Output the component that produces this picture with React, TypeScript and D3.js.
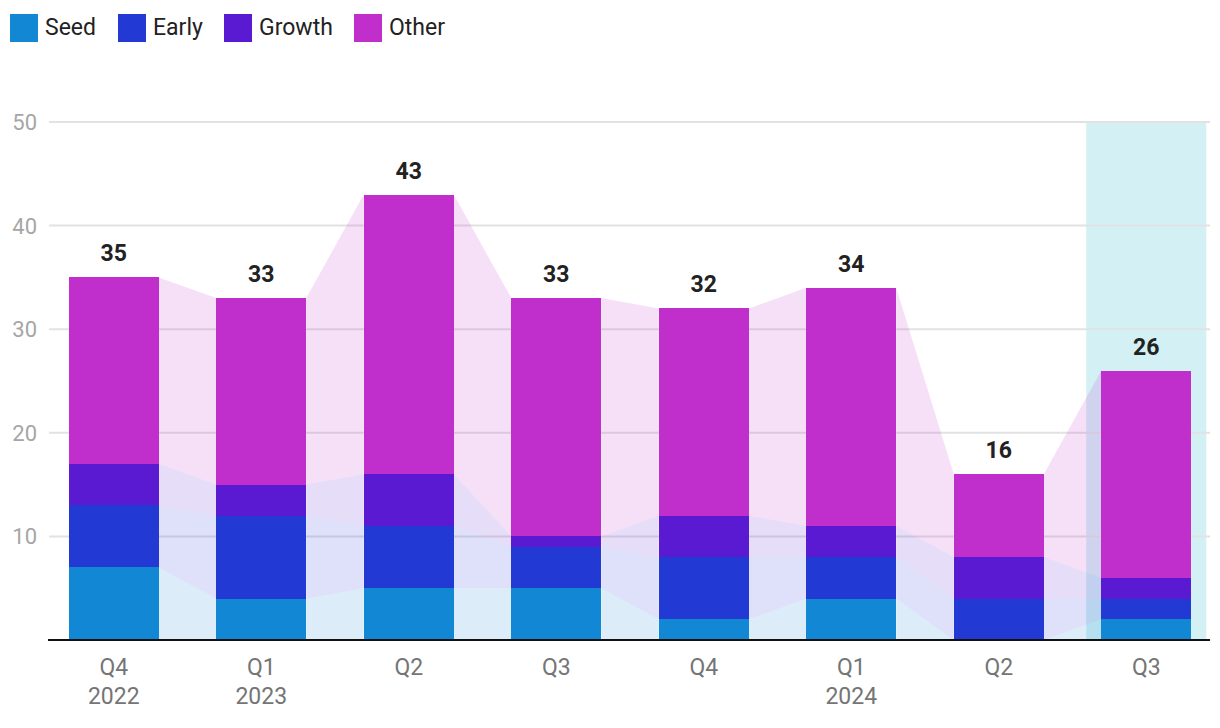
import React from "react";
import * as d3 from "d3";

const quarters = ["Q4", "Q1", "Q2", "Q3", "Q4", "Q1", "Q2", "Q3"];
const years = ["2022", "2023", "", "", "", "2024", "", ""];
const seriesNames = ["Seed", "Early", "Growth", "Other"];
const seriesColors = ["#1287d4", "#2339d4", "#5a1ad1", "#c02ecb"];
const seed = [7, 4, 5, 5, 2, 4, 0, 2];
const early = [6, 8, 6, 4, 6, 4, 4, 2];
const growth = [4, 3, 5, 1, 4, 3, 4, 2];
const other = [18, 18, 27, 23, 20, 23, 8, 20];
const yTicks = [10, 20, 30, 40, 50];
const highlightIndex = 7;

const W = 1220;
const H = 728;
const plotLeft = 40;
const plotRight = 1220;
const yTop = 122;
const yBottom = 640;
const gridLeft = 49;
const gridRight = 1210;

export default function App() {
  const idx = quarters.map((_, i) => i);
  const rows = idx.map((i) => ({
    i,
    Seed: seed[i],
    Early: early[i],
    Growth: growth[i],
    Other: other[i],
  }));
  const stack = d3.stack<any>().keys(seriesNames)(rows);
  const totals = idx.map((i) => seed[i] + early[i] + growth[i] + other[i]);

  const x = d3
    .scaleBand<number>()
    .domain(idx)
    .range([plotLeft, plotRight])
    .paddingInner(0.39)
    .paddingOuter(0.195);
  const y = d3.scaleLinear().domain([0, 50]).range([yBottom, yTop]);
  const bw = x.bandwidth();

  const connectors: JSX.Element[] = [];
  stack.forEach((layer, si) => {
    for (let i = 0; i < idx.length - 1; i++) {
      const a = layer[i];
      const b = layer[i + 1];
      const x0 = (x(i) as number) + bw;
      const x1 = x(i + 1) as number;
      const pts: [number, number, number][] = [
        [x0, a[0], a[1]],
        [x1, b[0], b[1]],
      ];
      const area = d3
        .area<[number, number, number]>()
        .x((d) => d[0])
        .y0((d) => y(d[1]))
        .y1((d) => y(d[2]));
      connectors.push(
        <path
          key={`c-${si}-${i}`}
          d={area(pts) as string}
          fill={seriesColors[si]}
          fillOpacity={0.15}
        />
      );
    }
  });

  const hx = (x(highlightIndex) as number) + bw / 2;

  return (
    <div style={{ position: "fixed", left: 0, top: 0 }}>
      <svg
        width={W}
        height={H}
        style={{ display: "block", fontFamily: "Roboto, 'Noto Sans', sans-serif" }}
      >
        <rect x={0} y={0} width={W} height={H} fill="#fff" />
        {seriesNames.map((n, i) => {
          const lx = [10, 118, 224, 354][i];
          return (
            <g key={n}>
              <rect x={lx} y={14} width={28} height={28} fill={seriesColors[i]} />
              <text x={lx + 35} y={35} fontSize={23} fill="#222">
                {n}
              </text>
            </g>
          );
        })}
        <rect
          x={hx - 60}
          y={y(50) + 1}
          width={120}
          height={y(0) - y(50) - 1}
          fill="#d3f0f4"
        />
        {yTicks.map((t) => (
          <g key={t}>
            <line
              x1={gridLeft}
              x2={gridRight}
              y1={y(t)}
              y2={y(t)}
              stroke="#e2e2e2"
              strokeWidth={2}
            />
            <text
              x={37}
              y={y(t) + 8}
              textAnchor="end"
              fontSize={22}
              fill="#a6a6a6"
            >
              {t}
            </text>
          </g>
        ))}
        {connectors}
        <g shapeRendering="crispEdges">
          {stack.map((layer, si) =>
            layer.map((d, i) => (
              <rect
                key={`b-${si}-${i}`}
                x={x(i)}
                y={y(d[1])}
                width={bw}
                height={Math.max(0, y(d[0]) - y(d[1]))}
                fill={seriesColors[si]}
              />
            ))
          )}
        </g>
        {totals.map((t, i) => (
          <text
            key={`t-${i}`}
            x={(x(i) as number) + bw / 2}
            y={y(t) - 16}
            textAnchor="middle"
            fontSize={23}
            fontWeight="bold"
            fill="#222"
          >
            {t}
          </text>
        ))}
        <line x1={gridLeft - 1} x2={gridRight} y1={y(0)} y2={y(0)} stroke="#111" strokeWidth={2} />
        {idx.map((i) => (
          <g key={`x-${i}`}>
            <text
              x={(x(i) as number) + bw / 2}
              y={675}
              textAnchor="middle"
              fontSize={23}
              fill="#757575"
            >
              {quarters[i]}
            </text>
            {years[i] && (
              <text
                x={(x(i) as number) + bw / 2}
                y={704}
                textAnchor="middle"
                fontSize={23}
                fill="#757575"
              >
                {years[i]}
              </text>
            )}
          </g>
        ))}
      </svg>
    </div>
  );
}
